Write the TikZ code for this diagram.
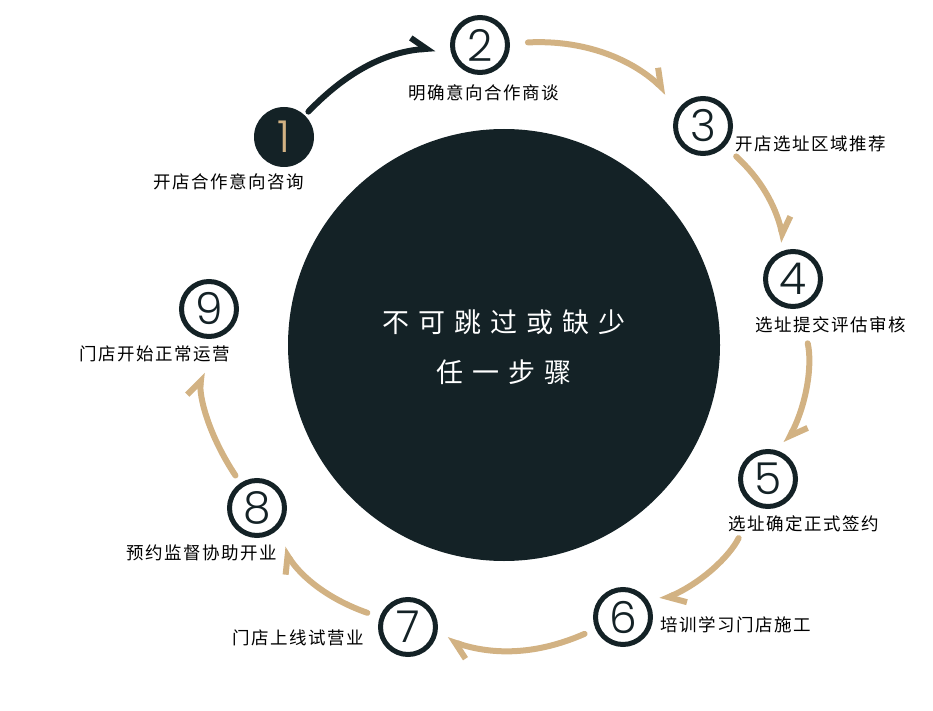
\documentclass[tikz,border=0pt]{standalone}
\usepackage{fontspec}
\usetikzlibrary{arrows.meta}
\setmainfont{Noto Sans CJK SC}
\newfontfamily\cjk[LetterSpace=9]{Noto Sans CJK SC}
\newfontfamily\cjkwide[LetterSpace=33]{Noto Sans CJK SC}
\newfontfamily\numfont{Poppins Light}
\definecolor{ink}{HTML}{142226}
\definecolor{sand}{HTML}{D2B283}

\tikzset{
  ring/.style={circle, draw=ink, line width=5pt, fill=white, minimum size=55pt,
    inner sep=0pt, text=ink, font=\numfont\fontsize{44}{44}\selectfont},
  firstring/.style={circle, fill=ink, minimum size=60pt, inner sep=0pt,
    text=sand, font=\numfont\fontsize{44}{44}\selectfont},
  steplabel/.style={anchor=west, inner sep=0pt, text=black,
    font=\cjk\fontsize{17.5}{20}\selectfont},
  flow/.style={line width=6pt, line cap=round,
    -{Straight Barb[harpoon, length=15pt, width=24pt]}},
}

\begin{document}
\begin{tikzpicture}[x=1pt, y=-1pt]
    \useasboundingbox (0,0) rectangle (933,711);
    % centre
    \fill[ink] (504,345) circle (216);
    \node[text=white, font=\cjkwide\fontsize{27}{50}\selectfont, align=center] (core) at (504,347)
        {不可跳过或缺少\\任一步骤};
    % steps
    \node[firstring] (s1) at (284,137) {1};
    \node[ring] (s2) at (480,45) {2};
    \node[ring] (s3) at (703,126) {3};
    \node[ring] (s4) at (793,279) {4};
    \node[ring] (s5) at (768,479) {5};
    \node[ring] (s6) at (623,617) {6};
    \node[ring] (s7) at (408,627) {7};
    \node[ring] (s8) at (257,508) {8};
    \node[ring] (s9) at (209,309) {9};
    % labels
    \node[steplabel] (l1) at (153,182) {开店合作意向咨询};
    \node[steplabel] (l2) at (408,93) {明确意向合作商谈};
    \node[steplabel] (l3) at (735,144) {开店选址区域推荐};
    \node[steplabel] (l4) at (755,325) {选址提交评估审核};
    \node[steplabel] (l5) at (728,524) {选址确定正式签约};
    \node[steplabel] (l6) at (660,625) {培训学习门店施工};
    \node[steplabel] (l7) at (232,638) {门店上线试营业};
    \node[steplabel] (l8) at (126,553) {预约监督协助开业};
    \node[steplabel] (l9) at (79,354) {门店开始正常运营};
    % arrows
    \draw[flow, draw=ink, shorten <=5pt, shorten >=15pt] (s1) to[bend left=21] (s2);
    \foreach \a/\b/\p/\q/\t in {s2/s3/18/19/23, s3/s4/15/8/17, s4/s5/36/10/20,
        s5/s6/36/11/20, s6/s7/12/11/21, s7/s8/13/18/19, s8/s9/9/34/20}
        \draw[flow, draw=sand, shorten <=\p pt, shorten >=\q pt] (\a) to[bend left=\t] (\b);
\end{tikzpicture}
\end{document}
